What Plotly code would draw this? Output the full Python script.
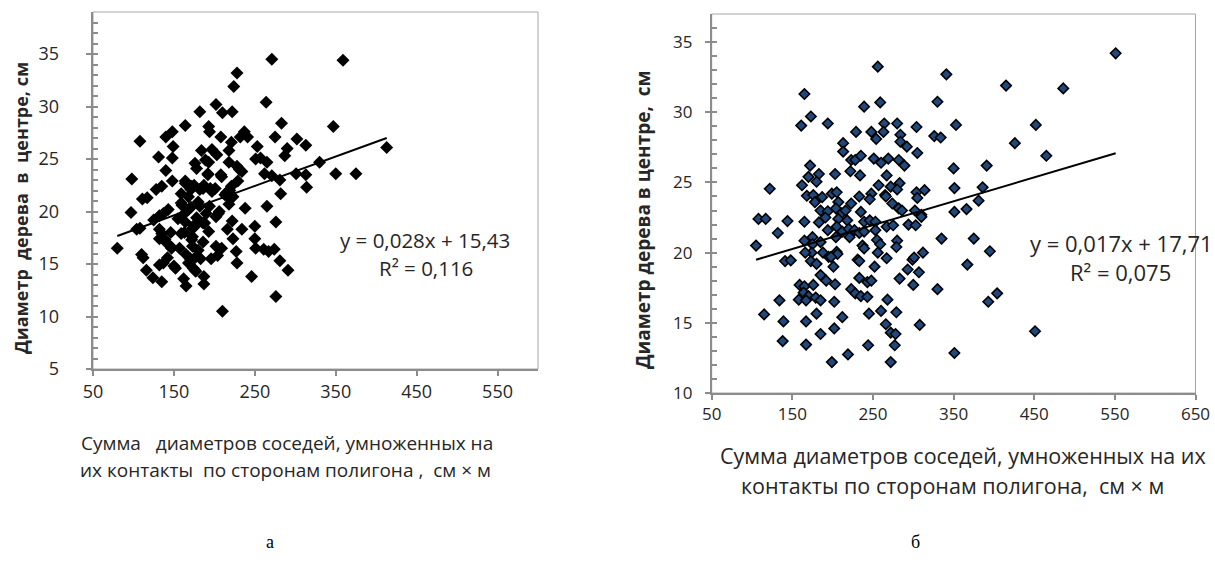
import plotly.graph_objects as go

# ---- Chart a (left) ----
a_x = [271,359,228,224,264,202,182,210,222,283,164,193,194,347,148,140,208,275,302,108,237,241,232,313,221,413,
       149,253,290,184,197,218,131,148,203,189,251,257,265,287,330,193,218,228,231,140,178,234,98,148,164,192,208,
       229,262,271,281,301,313,350,375,314,128,135,171,182,187,195,201,219,175,111,117,159,168,223,213,215,282,180,
       194,218,238,265,97,143,160,163,171,190,202,206,132,137,155,178,175,186,222,276,125,104,108,132,146,163,173,
       193,216,234,250,132,140,173,186,223,250,80,147,157,173,202,209,227,251,261,267,274,110,112,142,165,176,183,
       196,204,132,137,150,152,168,174,177,228,281,291,116,124,135,162,187,165,187,246,276,210,
       164,172,186,197,159,168,182,164,176,188,159,172,180,170,176,139,135,147,205,217,221,209,192,176]
a_y = [34.5,34.4,33.2,31.9,30.4,30.2,29.5,29.4,29.5,28.4,28.2,28.1,27.6,28.1,27.6,27.1,27.1,27.1,26.9,26.7,27.6,27.1,
       27.1,26.3,26.6,26.1,26.2,26.2,26.0,25.8,25.9,25.8,25.2,25.1,25.4,24.9,25.0,25.1,24.7,25.3,24.7,24.7,24.7,24.3,
       24.0,23.9,24.1,23.8,23.1,22.9,22.9,23.5,23.5,22.9,23.6,23.4,23.0,23.6,23.5,23.6,23.6,22.3,22.1,22.4,22.1,22.1,
       22.5,22.2,22.2,22.0,22.5,21.2,21.3,21.7,21.4,21.4,21.6,21.8,21.7,20.9,20.5,20.7,20.3,20.5,19.9,20.2,20.6,19.8,
       20.4,19.8,19.5,20.0,19.6,19.8,19.3,19.4,18.7,18.9,19.1,19.0,19.2,18.3,18.4,18.3,18.0,18.0,18.4,18.1,18.3,18.3,
       18.6,17.4,17.1,17.6,17.1,17.4,17.4,16.5,16.5,16.5,16.7,16.7,16.5,16.2,16.5,16.4,16.2,16.4,15.9,15.6,15.6,15.9,
       15.6,15.5,15.5,15.8,14.9,15.1,14.8,14.6,15.1,14.6,14.3,15.1,15.3,14.4,14.4,13.7,13.3,13.6,13.8,12.9,13.1,13.8,
       11.9,10.5,
       22.7,22.4,22.2,21.9,20.8,20.2,20.5,19.0,18.6,18.9,17.9,17.3,16.3,15.5,14.4,17.3,17.9,16.6,19.8,21.4,22.4,23.3,
       23.6,24.6]
a_slope, a_intercept = 0.028, 15.43
a_eq = ["y = 0,028x + 15,43", "R² = 0,116"]

# ---- Chart б (right) ----
b_x = [551,256,341,415,486,165,330,239,259,173,161,194,264,280,304,353,452,229,248,254,263,284,326,334,284,213,426,
       292,213,305,223,228,235,251,260,269,282,289,465,172,350,391,222,162,170,183,180,203,234,267,257,283,168,176,
       199,205,248,265,272,280,304,314,351,386,381,122,178,187,207,223,233,246,266,274,305,185,194,204,211,216,235,
       282,286,302,310,351,366,108,117,144,165,183,191,207,218,239,246,253,267,275,294,303,310,132,194,205,212,220,
       227,233,239,253,175,204,221,255,165,185,280,335,375,105,175,237,239,259,279,174,188,205,206,256,312,395,166,
       195,198,231,233,267,299,301,141,148,173,180,367,201,252,293,307,185,192,203,233,243,248,283,159,165,176,300,
       330,223,228,164,170,179,185,235,243,158,167,134,268,393,404,202,115,180,245,260,279,139,167,212,266,308,451,
       185,202,272,278,138,167,244,277,351,219,199,272]
b_y = [34.2,33.25,32.7,31.9,31.7,31.3,30.75,30.4,30.7,29.7,29.05,29.2,29.2,29.2,28.95,29.1,29.1,28.6,28.6,28.1,28.6,
       28.4,28.3,28.2,27.9,27.8,27.8,27.55,27.2,27.1,26.6,26.6,26.9,26.7,26.4,26.7,26.6,26.2,26.9,26.2,26.0,26.2,25.8,
       24.8,25.4,25.6,25.05,25.6,25.5,25.5,24.8,24.95,24.05,24.1,24.2,24.3,24.2,24.1,24.7,24.5,24.3,24.45,24.6,24.65,
       23.7,24.55,23.6,23.95,23.6,23.5,24.0,23.8,24.0,23.5,23.9,23.0,22.95,23.15,22.8,23.0,22.9,23.15,23.0,23.0,22.7,
       22.9,23.1,22.4,22.4,22.25,22.2,22.15,22.5,22.4,22.3,22.2,22.3,22.2,21.85,21.95,22.0,21.95,22.55,21.4,21.6,
       21.85,21.5,21.7,21.6,21.4,21.5,21.6,21.1,21.1,21.1,20.9,20.85,20.75,20.85,21.0,21.0,20.5,20.6,20.5,20.3,20.6,
       20.4,20.0,20.0,20.05,19.9,20.0,20.0,20.1,20.0,19.7,19.7,19.5,19.4,19.6,19.5,19.65,19.4,19.45,19.4,19.2,19.15,
       19.0,19.0,18.8,18.6,18.4,18.0,17.75,18.2,17.9,18.0,18.15,17.7,17.6,17.7,17.7,17.4,17.4,17.1,17.15,16.9,16.8,
       16.6,16.9,16.85,16.65,16.6,16.6,16.65,16.5,17.1,16.5,15.6,15.65,15.65,15.85,15.75,15.1,15.1,15.4,14.9,14.85,
       14.4,14.2,14.6,14.3,14.2,13.7,13.45,13.4,13.4,12.85,12.75,12.2,12.2]
b_slope, b_intercept = 0.017, 17.71
b_eq = ["y = 0,017x + 17,71", "R² = 0,075"]

# axis settings
a_xticks = [50, 150, 250, 350, 450, 550]
a_xrange = [50, 600]
a_yticks = [5, 10, 15, 20, 25, 30, 35]
a_yrange = [5, 39]
b_xticks = [50, 150, 250, 350, 450, 550, 650]
b_xrange = [50, 650]
b_yticks = [10, 15, 20, 25, 30, 35]
b_yrange = [10, 37]
minor_step = 1

W, H = 1215, 565
NB = "\u00a0"

def px_x(p):
    return p / W

def px_y(p):
    return 1 - p / H

fig = go.Figure()

# chart a
fig.add_trace(go.Scatter(x=a_x, y=a_y, mode="markers", xaxis="x", yaxis="y",
                         marker=dict(symbol="diamond", size=10, color="black", line=dict(width=0)),
                         showlegend=False))
ax0, ax1 = min(a_x), max(a_x)
fig.add_trace(go.Scatter(x=[ax0, ax1], y=[a_slope * ax0 + a_intercept, a_slope * ax1 + a_intercept],
                         mode="lines", xaxis="x", yaxis="y3", line=dict(color="black", width=2),
                         showlegend=False))
# chart b
fig.add_trace(go.Scatter(x=b_x, y=b_y, mode="markers", xaxis="x2", yaxis="y2",
                         marker=dict(symbol="diamond", size=8, color="#1F497D",
                                     line=dict(width=1.6, color="black")),
                         showlegend=False))
bx0, bx1 = min(b_x), max(b_x)
fig.add_trace(go.Scatter(x=[bx0, bx1], y=[b_slope * bx0 + b_intercept, b_slope * bx1 + b_intercept],
                         mode="lines", xaxis="x2", yaxis="y4", line=dict(color="black", width=2),
                         showlegend=False))

axis_line = "#8C8C8C"
tickfont_a = dict(family="Open Sans", size=18, color="#262626")
tickfont_b = dict(family="Open Sans", size=17, color="#262626")


def xaxis_cfg(ticks, rng, font, domain, anchor):
    return dict(domain=domain, range=rng, tickmode="linear", tick0=ticks[0], dtick=ticks[1] - ticks[0],
                tickfont=font, anchor=anchor, showgrid=False, zeroline=False, showline=True,
                linecolor=axis_line, linewidth=2, ticks="outside", ticklen=5, tickwidth=2,
                tickcolor=axis_line, automargin=False)


def yaxis_cfg(ticks, rng, font, domain, anchor, suffix):
    return dict(domain=domain, range=rng, tickmode="linear", tick0=ticks[0], dtick=ticks[1] - ticks[0],
                tickfont=font, anchor=anchor, showgrid=False, zeroline=False, showline=True,
                linecolor=axis_line, linewidth=2, ticks="outside", ticklen=5, tickwidth=2,
                tickcolor=axis_line, ticksuffix=suffix, automargin=False)


def minor_cfg(rng, domain, anchor, overlay):
    return dict(domain=domain, range=rng, overlaying=overlay, anchor=anchor, tickmode="linear",
                tick0=rng[0], dtick=minor_step, ticks="inside", ticklen=5, tickwidth=1.5,
                tickcolor=axis_line, showticklabels=False, showline=False, showgrid=False,
                zeroline=False, automargin=False)


a_xdom, a_ydom = [px_x(93), px_x(538)], [px_y(369), px_y(12)]
b_xdom, b_ydom = [px_x(711.7), px_x(1195.5)], [px_y(393), px_y(14)]

fig.update_layout(
    width=W, height=H, margin=dict(l=0, r=0, t=0, b=0, autoexpand=False),
    paper_bgcolor="white", plot_bgcolor="white",
    xaxis=xaxis_cfg(a_xticks, a_xrange, tickfont_a, a_xdom, "y"),
    yaxis=yaxis_cfg(a_yticks, a_yrange, tickfont_a, a_ydom, "x", NB * 5),
    xaxis2=xaxis_cfg(b_xticks, b_xrange, tickfont_b, b_xdom, "y2"),
    yaxis2=yaxis_cfg(b_yticks, b_yrange, tickfont_b, b_ydom, "x2", NB * 2),
    yaxis3=minor_cfg(a_yrange, a_ydom, "x", "y"),
    yaxis4=minor_cfg(b_yrange, b_ydom, "x2", "y2"),
)

# border boxes (top/right frame)
for xr, yr in (("x", "y"), ("x2", "y2")):
    fig.add_shape(type="rect", xref=f"{xr} domain", yref=f"{yr} domain", x0=0, x1=1, y0=0, y1=1,
                  line=dict(color="#A6A6A6", width=1), layer="below")

ann = []
def text(x, y, s, size, family="Open Sans", bold=False, angle=0, color="#262626"):
    if bold:
        s = f"<b>{s}</b>"
    ann.append(dict(x=px_x(x), y=px_y(y), xref="paper", yref="paper", text=s, showarrow=False,
                    xanchor="center", yanchor="middle", textangle=angle,
                    font=dict(family=family, size=size, color=color)))

# y titles
text(21, 208, "Диаметр" + NB * 2 + "дерева" + NB * 2 + "в" + NB * 2 + "центре, см", 18, bold=True, angle=-90)
text(643, 220, "Диаметр дерева в центре," + NB * 2 + "см", 19, bold=True, angle=-90)
# x titles
text(287, 443, "Сумма" + NB * 3 + "диаметров соседей, умноженных на", 19)
text(285, 470, "их контакты" + NB * 2 + "по сторонам полигона ," + NB * 2 + "см × м", 19)
text(963, 455, "Сумма диаметров соседей, умноженных на их", 21.5)
text(952, 485, "контакты по сторонам полигона," + NB * 2 + "см × м", 21.5)
# equations
text(425, 240, a_eq[0], 20.5)
text(426, 268, a_eq[1], 20.5)
text(1121, 243, b_eq[0], 22)
text(1120, 272, b_eq[1], 22)
# captions
text(270, 542, "а", 18, family="Liberation Serif", color="black")
text(915, 542, "б", 18, family="Liberation Serif", color="black")

fig.update_layout(annotations=ann)
fig.write_html("out.html", config={"displayModeBar": False},
               post_script="document.body.style.margin='0';document.body.style.overflow='hidden';")
